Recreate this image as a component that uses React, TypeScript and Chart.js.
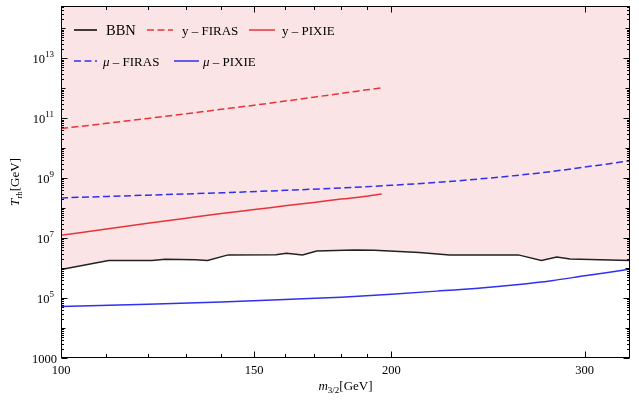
import { useEffect, useRef } from 'react';
import { Chart, registerables } from 'chart.js';

Chart.register(...registerables);

// BBN bound (black, region above it is shaded)
const bbnMass = [100, 110.5, 121, 124.5, 132.5, 136, 142, 157, 160.5, 166, 171, 185, 193, 212, 226, 261, 274, 283, 291, 330];
const bbnTrh = [8.9e5, 1.78e6, 1.78e6, 1.95e6, 1.9e6, 1.78e6, 2.75e6, 2.8e6, 3.1e6, 2.75e6, 3.7e6, 4.0e6, 3.9e6, 3.3e6, 2.75e6, 2.75e6, 1.78e6, 2.35e6, 2.0e6, 1.78e6];

// y-distortion curves (red)
const yMass = [100, 110, 120, 130, 140, 150, 160, 170, 180, 190, 196];
const yFirasTrh = [4.5e10, 6.7e10, 9.8e10, 1.4e11, 1.97e11, 2.7e11, 3.7e11, 5.0e11, 6.7e11, 8.8e11, 1.03e12];
const yPixieTrh = [1.23e7, 2.0e7, 3.1e7, 4.6e7, 6.6e7, 8.9e7, 1.19e8, 1.55e8, 2.0e8, 2.5e8, 2.95e8];

// mu-distortion curves (blue)
const muMass = [100, 120, 140, 160, 180, 200, 220, 240, 260, 280, 300, 315, 330];
const muFirasTrh = [2.19e8, 2.7e8, 3.24e8, 3.9e8, 4.7e8, 5.75e8, 7.2e8, 9.3e8, 1.23e9, 1.66e9, 2.34e9, 2.95e9, 3.8e9];
const muPixieTrh = [5.2e4, 6.2e4, 7.4e4, 8.9e4, 1.07e5, 1.35e5, 1.7e5, 2.14e5, 2.8e5, 3.8e5, 5.5e5, 7.1e5, 9.3e5];

// ticks
const xLabelTicks = [100, 150, 200, 300];
const xMinorTicks = [110, 120, 130, 140, 160, 170, 180, 190];
const yDecades = [3, 4, 5, 6, 7, 8, 9, 10, 11, 12, 13, 14];
const yLabelPowers = [3, 5, 7, 9, 11, 13];

const RED = 'rgb(232, 52, 56)';
const BLUE = 'rgb(48, 48, 240)';
const FILL = 'rgb(250, 228, 229)';
const SERIF = '"Liberation Serif", "Times New Roman", serif';
const DASH = [7, 3.5];

type Part = { t: string; size: number; italic?: boolean; dy?: number };

const font = (p: Part) => `${p.italic ? 'italic ' : ''}${p.size}px ${SERIF}`;

// draws a run of text pieces (for sub/superscripts) starting at x, baseline y
function drawRun(ctx: CanvasRenderingContext2D, parts: Part[], x: number, y: number, align: 'left' | 'center' | 'right') {
  ctx.textAlign = 'left';
  ctx.textBaseline = 'alphabetic';
  const widths = parts.map((p) => {
    ctx.font = font(p);
    return ctx.measureText(p.t).width;
  });
  const total = widths.reduce((s, w) => s + w, 0);
  let cx = align === 'left' ? x : align === 'center' ? x - total / 2 : x - total;
  parts.forEach((p, i) => {
    ctx.font = font(p);
    ctx.fillText(p.t, cx, y + (p.dy || 0));
    cx += widths[i];
  });
}

const framePlugin = {
  id: 'frame',
  afterDraw(chart: any) {
    const { ctx, chartArea: a, scales } = chart;
    const xs = scales.x;
    const ys = scales.y;
    ctx.save();
    ctx.strokeStyle = '#000';
    ctx.fillStyle = '#000';
    ctx.lineWidth = 1;
    ctx.setLineDash([]);

    const L = Math.round(a.left) + 0.5;
    const R = Math.round(a.right) - 0.5;
    const T = Math.round(a.top) + 0.5;
    const B = Math.round(a.bottom) - 0.5;
    ctx.strokeRect(L, T, R - L, B - T);

    const line = (x1: number, y1: number, x2: number, y2: number) => {
      ctx.beginPath();
      ctx.moveTo(x1, y1);
      ctx.lineTo(x2, y2);
      ctx.stroke();
    };

    // x ticks, top and bottom, pointing inward
    xLabelTicks.forEach((v) => {
      const px = Math.round(xs.getPixelForValue(v)) + 0.5;
      line(px, B, px, B - 6);
      line(px, T, px, T + 6);
    });
    xMinorTicks.forEach((v) => {
      const px = Math.round(xs.getPixelForValue(v)) + 0.5;
      line(px, B, px, B - 3.5);
      line(px, T, px, T + 3.5);
    });

    // y ticks, left and right
    yDecades.forEach((p) => {
      for (let m = 1; m <= 9; m++) {
        const v = m * Math.pow(10, p);
        if (v < ys.min || v > ys.max) continue;
        const py = Math.round(ys.getPixelForValue(v)) + 0.5;
        const len = m === 1 ? (yLabelPowers.includes(p) ? 6 : 4) : 2.5;
        line(L, py, L + len, py);
        line(R, py, R - len, py);
      }
    });

    // x tick labels
    xLabelTicks.forEach((v) => {
      const px = xs.getPixelForValue(v);
      drawRun(ctx, [{ t: String(v), size: 12.5 }], px, a.bottom + 16, 'center');
    });

    // y tick labels
    yLabelPowers.forEach((p) => {
      const py = ys.getPixelForValue(Math.pow(10, p));
      if (p === 3) {
        drawRun(ctx, [{ t: '1000', size: 12.5 }], a.left - 4, py + 4.5, 'right');
      } else {
        drawRun(ctx, [{ t: '10', size: 12.5 }, { t: String(p), size: 9, dy: -6 }], a.left - 7, py + 4.5, 'right');
      }
    });

    // axis titles
    drawRun(ctx, [{ t: 'm', size: 13, italic: true }, { t: '3/2', size: 9, dy: 3 }, { t: '[GeV]', size: 13 }], (a.left + a.right) / 2, a.bottom + 32, 'center');
    ctx.save();
    ctx.translate(19, (a.top + a.bottom) / 2);
    ctx.rotate(-Math.PI / 2);
    drawRun(ctx, [{ t: 'T', size: 13, italic: true }, { t: 'rh', size: 9, dy: 3 }, { t: '[GeV]', size: 13 }], 0, 0, 'center');
    ctx.restore();

    // legend (two rows, inside the plot)
    const legendRows: { x1: number; x2: number; tx: number; row: number; color: string; dash: number[]; parts: Part[] }[] = [
      { x1: 13, x2: 36, tx: 45, row: 0, color: '#000', dash: [], parts: [{ t: 'BBN', size: 14.5 }] },
      { x1: 86, x2: 112, tx: 121, row: 0, color: RED, dash: DASH, parts: [{ t: 'y – FIRAS', size: 13 }] },
      { x1: 188, x2: 214, tx: 221, row: 0, color: RED, dash: [], parts: [{ t: 'y – PIXIE', size: 13 }] },
      { x1: 13, x2: 36, tx: 42, row: 1, color: BLUE, dash: DASH, parts: [{ t: 'μ', size: 13, italic: true }, { t: ' – FIRAS', size: 13 }] },
      { x1: 113, x2: 138, tx: 142, row: 1, color: BLUE, dash: [], parts: [{ t: 'μ', size: 13, italic: true }, { t: ' – PIXIE', size: 13 }] },
    ];
    legendRows.forEach((e) => {
      const cy = a.top + 24 + e.row * 31;
      ctx.strokeStyle = e.color;
      ctx.lineWidth = 1.5;
      ctx.setLineDash(e.dash);
      line(a.left + e.x1, cy, a.left + e.x2, cy);
      ctx.setLineDash([]);
      ctx.fillStyle = '#000';
      drawRun(ctx, e.parts, a.left + e.tx, cy + 4.5, 'left');
    });

    ctx.restore();
  },
};

const pts = (xs: number[], ys: number[]) => xs.map((x, i) => ({ x, y: ys[i] }));

const App = () => {
  const canvasRef = useRef<HTMLCanvasElement | null>(null);
  const chartRef = useRef<Chart | null>(null);

  useEffect(() => {
    if (!canvasRef.current) return;
    const ctx = canvasRef.current.getContext('2d');
    if (!ctx) return;
    if (chartRef.current) chartRef.current.destroy();

    chartRef.current = new Chart(ctx, {
      type: 'line',
      data: {
        datasets: [
          {
            label: 'BBN',
            data: pts(bbnMass, bbnTrh),
            borderColor: '#222',
            borderWidth: 1.5,
            backgroundColor: FILL,
            fill: 'end',
            pointRadius: 0,
            tension: 0,
          },
          {
            label: 'y – FIRAS',
            data: pts(yMass, yFirasTrh),
            borderColor: RED,
            borderWidth: 1.5,
            borderDash: DASH,
            pointRadius: 0,
            cubicInterpolationMode: 'monotone',
            fill: false,
          },
          {
            label: 'y – PIXIE',
            data: pts(yMass, yPixieTrh),
            borderColor: RED,
            borderWidth: 1.5,
            pointRadius: 0,
            cubicInterpolationMode: 'monotone',
            fill: false,
          },
          {
            label: 'μ – FIRAS',
            data: pts(muMass, muFirasTrh),
            borderColor: BLUE,
            borderWidth: 1.5,
            borderDash: DASH,
            pointRadius: 0,
            cubicInterpolationMode: 'monotone',
            fill: false,
          },
          {
            label: 'μ – PIXIE',
            data: pts(muMass, muPixieTrh),
            borderColor: BLUE,
            borderWidth: 1.5,
            pointRadius: 0,
            cubicInterpolationMode: 'monotone',
            fill: false,
          },
        ],
      },
      options: {
        animation: false,
        responsive: false,
        devicePixelRatio: 1,
        layout: { padding: { left: 61, right: 9, top: 6, bottom: 42 } },
        scales: {
          x: { type: 'logarithmic', min: 100, max: 330, display: false },
          y: { type: 'logarithmic', min: 1000, max: 5.5e14, display: false },
        },
        plugins: {
          legend: { display: false },
          tooltip: { enabled: false },
          filler: { drawTime: 'beforeDatasetsDraw' },
        },
      } as any,
      plugins: [framePlugin],
    });

    return () => {
      if (chartRef.current) {
        chartRef.current.destroy();
        chartRef.current = null;
      }
    };
  }, []);

  return (
    <div style={{ position: 'fixed', left: 0, top: 0, width: 639, height: 400, background: '#fff' }}>
      <canvas ref={canvasRef} width={639} height={400} style={{ display: 'block' }}></canvas>
    </div>
  );
};

export default App;
